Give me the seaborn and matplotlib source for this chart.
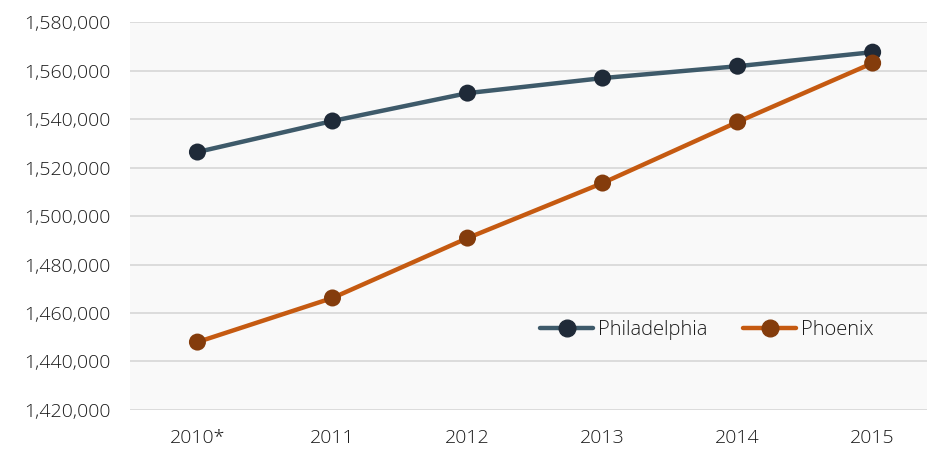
import pandas as pd
import numpy as np
import matplotlib.pyplot as plt
import matplotlib.ticker as mticker
from matplotlib.lines import Line2D
import seaborn as sns

sns.set_style("white")
plt.rcParams['font.family'] = ['Open Sans', 'DejaVu Sans']
plt.rcParams['font.weight'] = 'light'

# ---------------- data ----------------
years = ["2010*", "2011", "2012", "2013", "2014", "2015"]
philadelphia = [1526400, 1539200, 1550700, 1556900, 1561800, 1567600]
phoenix = [1448000, 1466200, 1490900, 1513600, 1538800, 1563100]
cities = ["Philadelphia", "Phoenix"]

line_colors = {"Philadelphia": "#3E5A6A", "Phoenix": "#C55A11"}
marker_colors = {"Philadelphia": "#1F2A38", "Phoenix": "#843C0C"}

df = pd.DataFrame({
    "year": years * 2,
    "pop": philadelphia + phoenix,
    "city": ["Philadelphia"] * len(years) + ["Phoenix"] * len(years),
})
df["x"] = np.tile(np.arange(len(years)), 2)

fig = plt.figure(figsize=(9.28, 4.51), dpi=100)
ax = fig.add_axes([0.140, 0.091, 0.86, 0.860])
ax.set_facecolor("#F9F9F9")

sns.lineplot(data=df, x="x", y="pop", hue="city", palette=line_colors,
             linewidth=3.2, ax=ax, legend=False, zorder=3)
sns.scatterplot(data=df, x="x", y="pop", hue="city", palette=marker_colors,
                s=150, edgecolor="none", ax=ax, legend=False, zorder=4)

ax.set_xlim(-0.5, 5.41)
ax.set_ylim(1420000, 1580000)
ax.set_yticks(np.arange(1420000, 1580001, 20000))
ax.yaxis.set_major_formatter(mticker.FuncFormatter(lambda v, p: f"{int(v):,}"))
ax.set_xticks(np.arange(len(years)))
ax.set_xticklabels(years)
ax.set_xlabel("")
ax.set_ylabel("")

ax.grid(True, axis="y", color="#D9D9D9", linewidth=1.3)
ax.grid(False, axis="x")
ax.set_axisbelow(True)
for s in ax.spines.values():
    s.set_visible(False)
ax.tick_params(axis="both", length=0, labelsize=14, colors="#1A1A1A")
ax.tick_params(axis="y", pad=14)
ax.tick_params(axis="x", pad=14)

handles = [Line2D([0], [0], color=line_colors[c], linewidth=3.2, marker="o",
                  markersize=12, markerfacecolor=marker_colors[c],
                  markeredgecolor=marker_colors[c]) for c in cities]
ax.legend(handles, cities, loc="center", bbox_to_anchor=(0.723, 0.205),
          ncol=2, frameon=False, fontsize=14.5, handlelength=2.6,
          handletextpad=0.25, columnspacing=1.8, labelcolor="#1A1A1A")

plt.savefig("out.png", dpi=100)
